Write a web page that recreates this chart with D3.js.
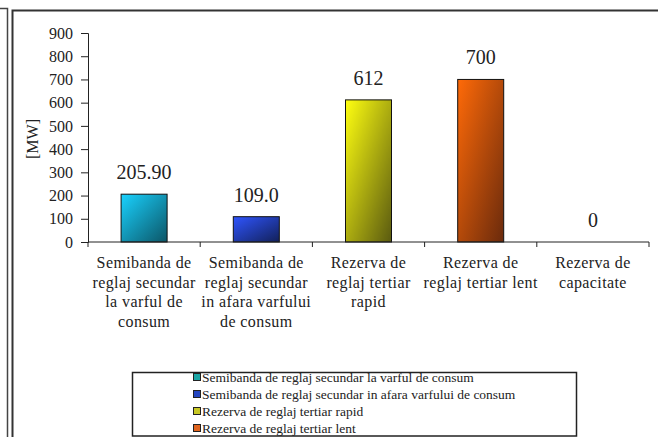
<!DOCTYPE html>
<html>
<head>
<meta charset="utf-8">
<script src="https://cdn.jsdelivr.net/npm/d3@7"></script>
<style>
  html, body { margin: 0; padding: 0; background: #fff; }
  svg text { font-family: "Liberation Serif", "Times New Roman", serif !important; }
</style>
</head>
<body>
<svg id="chart" width="658" height="437"></svg>
<script>
var categories = ["sec_varf", "sec_afara", "tert_rapid", "tert_lent", "capacitate"];
var categoryLines = [
  ["Semibanda de", "reglaj secundar", "la varful de", "consum"],
  ["Semibanda de", "reglaj secundar", "in afara varfului", "de consum"],
  ["Rezerva de", "reglaj tertiar", "rapid"],
  ["Rezerva de", "reglaj tertiar lent"],
  ["Rezerva de", "capacitate"]
];
var values = [205.9, 109.0, 612, 700, 0];
var valueLabels = ["205.90", "109.0", "612", "700", "0"];
var yTicks = [0, 100, 200, 300, 400, 500, 600, 700, 800, 900];
var legendNames = [
  "Semibanda de reglaj secundar la varful de consum",
  "Semibanda de reglaj secundar in afara varfului de consum",
  "Rezerva de reglaj tertiar rapid",
  "Rezerva de reglaj tertiar lent"
];
var barColors = [["#19d2ff", "#0c5566"], ["#2f55ff", "#122058"], ["#ffff10", "#5a5a10"], ["#ff6a08", "#6a2a0c"]];
var swatchColors = ["#1aa6a6", "#2446c0", "#c8c824", "#e0641e"];

var svg = d3.select("#chart");

// panel frames
svg.append("path").attr("d", "M0,8.5H7.5V437").attr("fill", "none").attr("stroke", "#444").attr("stroke-width", 1.5);
svg.append("path").attr("d", "M12.5,437V10.5H658").attr("fill", "none").attr("stroke", "#333").attr("stroke-width", 2);

var x = d3.scaleBand().domain(categories).range([88, 649]).paddingInner(0).paddingOuter(0);
var y = d3.scaleLinear().domain([0, 900]).range([242, 33]);
var barW = 46;

var defs = svg.append("defs");
barColors.forEach(function(c, i) {
  var gr = defs.append("linearGradient").attr("id", "g" + i)
      .attr("x1", "0").attr("y1", "0").attr("x2", "1").attr("y2", "1");
  gr.append("stop").attr("offset", "0").attr("stop-color", c[0]);
  gr.append("stop").attr("offset", "1").attr("stop-color", c[1]);
});

var g = svg.append("g");

g.selectAll("rect.bar")
  .data(values)
  .enter().filter(function(d) { return d > 0; })
  .append("rect")
    .attr("class", "bar")
    .attr("x", function(d, i) { return x(categories[i]) + x.bandwidth() / 2 - barW / 2; })
    .attr("y", function(d) { return y(d); })
    .attr("width", barW)
    .attr("height", function(d) { return y(0) - y(d); })
    .attr("fill", function(d, i) { return "url(#g" + i + ")"; })
    .attr("stroke", "#111")
    .attr("stroke-width", 1);

g.selectAll("text.val")
  .data(values)
  .enter().append("text")
    .attr("class", "val")
    .attr("x", function(d, i) { return x(categories[i]) + x.bandwidth() / 2; })
    .attr("y", function(d) { return y(d) - 15; })
    .attr("text-anchor", "middle")
    .attr("font-size", 20)
    .attr("fill", "#222")
    .text(function(d, i) { return valueLabels[i]; });

// y axis
var yAxis = g.append("g")
    .attr("transform", "translate(88,0)")
    .call(d3.axisLeft(y).tickValues(yTicks).tickSize(7).tickPadding(8).tickFormat(d3.format("d")));
yAxis.selectAll("text").attr("font-size", 16).attr("fill", "#222");
yAxis.selectAll("line, path").attr("stroke", "#222");

// x axis
var xEdges = categories.map(function(c) { return x(c); }).concat([x.range()[1]]);
var xAxis = g.append("g").attr("transform", "translate(0,242)");
xAxis.append("line").attr("x1", x.range()[0]).attr("x2", x.range()[1]).attr("stroke", "#222");
xAxis.selectAll("line.tk")
  .data(xEdges)
  .enter().append("line")
    .attr("class", "tk")
    .attr("x1", function(d) { return d; }).attr("x2", function(d) { return d; })
    .attr("y1", 0).attr("y2", 5)
    .attr("stroke", "#222");

var cat = g.selectAll("text.cat")
  .data(categoryLines)
  .enter().append("text")
    .attr("class", "cat")
    .attr("text-anchor", "middle")
    .attr("font-size", 16)
    .attr("letter-spacing", 0.4)
    .attr("fill", "#222");
cat.selectAll("tspan")
  .data(function(d, i) { return d.map(function(s) { return {s: s, i: i}; }); })
  .enter().append("tspan")
    .attr("x", function(d) { return x(categories[d.i]) + x.bandwidth() / 2; })
    .attr("y", function(d, j) { return 268 + j * 19.5; })
    .text(function(d) { return d.s; });

// y title
svg.append("text")
    .attr("transform", "translate(38,139) rotate(-90)")
    .attr("text-anchor", "middle")
    .attr("font-size", 16)
    .attr("fill", "#222")
    .text("[MW]");

// legend
var legend = svg.append("g");
legend.append("rect")
    .attr("x", 132.5).attr("y", 372.5).attr("width", 444).attr("height", 63.5)
    .attr("fill", "#fff").attr("stroke", "#222").attr("stroke-width", 1.5);
var li = legend.selectAll("g.item")
  .data(legendNames)
  .enter().append("g")
    .attr("class", "item")
    .attr("transform", function(d, i) { return "translate(193," + (377 + i * 17) + ")"; });
li.append("rect")
    .attr("x", 0.5).attr("y", -3.5).attr("width", 7).attr("height", 7)
    .attr("fill", function(d, i) { return swatchColors[i]; })
    .attr("stroke", "#222").attr("stroke-width", 1);
li.append("text")
    .attr("x", 9).attr("y", 4.5)
    .attr("font-size", 13.5)
    .attr("fill", "#222")
    .text(function(d) { return d; });
</script>
</body>
</html>
